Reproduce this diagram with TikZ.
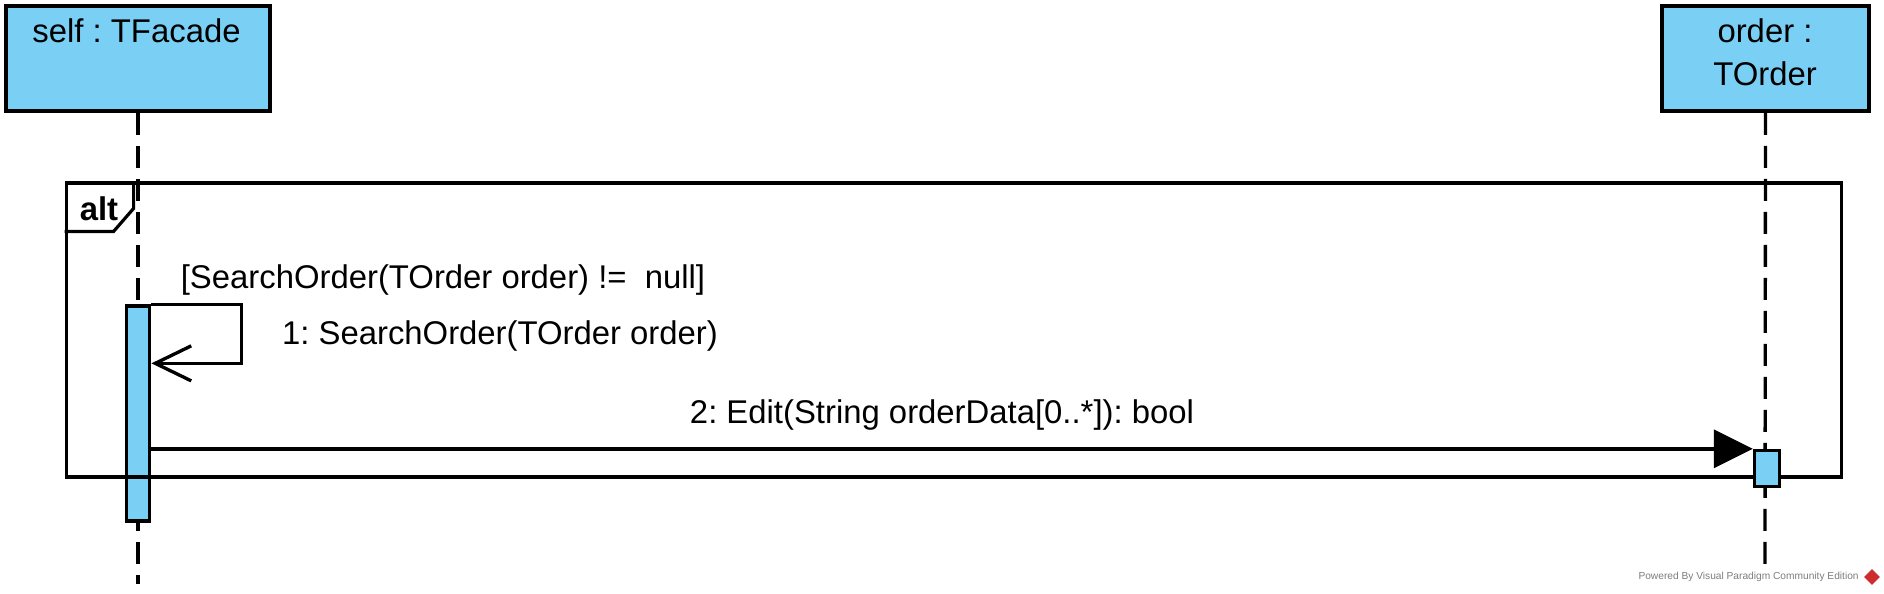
\documentclass[tikz,border=0pt]{standalone}
\usepackage{fontspec}
\setmainfont{Liberation Sans}
\usetikzlibrary{arrows.meta, shapes.geometric, positioning}
\definecolor{vpblue}{RGB}{122,207,245}
\definecolor{vpgray}{RGB}{125,125,125}
\definecolor{vpred}{RGB}{205,45,45}
\frenchspacing

\begin{document}
\begin{tikzpicture}[x=0.02cm, y=-0.02cm,
    lifebox/.style={draw, line width=2.2pt, fill=vpblue, minimum height=2.1cm, inner sep=0pt},
    actbar/.style={draw, line width=1.9pt, fill=vpblue, minimum width=0.47cm, inner sep=0pt},
    lifeline/.style={line width=1.9pt, dash pattern=on 0.44cm off 0.22cm},
    msg/.style={line width=1.9pt},
    txt/.style={font=\fontsize{18.7}{24.4}\selectfont, inner sep=0pt}]
            \useasboundingbox (0,0) rectangle (1884,594);
            % lifeline heads
            \node[lifebox, minimum width=5.28cm] (self) at (138,58.5) {};
            \node[lifebox, minimum width=4.14cm] (order) at (1765.5,58.5) {};
            \node[txt] (selfname) at (136.5,31) {self : TFacade};
            \node[txt, align=center] (ordername) at (1765,52) {order :\\TOrder};
            \coordinate (selfend) at (138,584);
            \coordinate (orderend) at (1765,565);
            \draw[lifeline] (self.south) -- (selfend);
            \draw[lifeline] (order.south) -- (orderend);
            \node[actbar, minimum height=4.3cm] (selfact) at (138,413.5) {};
            % alt fragment
            \node[draw, line width=1.8pt, minimum width=35.52cm, minimum height=5.88cm, inner sep=0pt] (altframe) at (954,330) {};
            \draw[line width=1.8pt] (altframe.north west) ++(0,50) -- ++(49,0) -- ++(20,-23) -- ++(0,-27);
            \node[txt, font=\fontsize{18.7}{22}\selectfont\bfseries] (altname) at (99,209) {alt};
            \node[actbar, minimum width=0.5cm, minimum height=0.72cm] (orderact) at (1767,468.5) {};
            % messages
            \draw[msg, -{Straight Barb[length=0.72cm, width=0.7cm]}] (selfact.north east) -- ++(90,0) -- ++(0,59) -- ++(-90,0);
            \draw[msg, -{Triangle[length=0.78cm, width=0.76cm]}] (selfact.east |- orderact.north) -- (orderact.north west);
            \node[txt] (guard) at (443,280) {[SearchOrder(TOrder order) !=\ \ null]};
            \node[txt] (msgone) at (500,336) {1: SearchOrder(TOrder order)};
            \node[txt] (msgtwo) at (942,415) {2: Edit(String orderData[0..*]): bool};
            % footer
            \node[font=\fontsize{5.8}{7}\selectfont, text=vpgray, inner sep=0pt, anchor=east] (powered) at (1859,577) {Powered By Visual Paradigm Community Edition};
            \node[diamond, fill=vpred, minimum size=0.32cm, inner sep=0pt] (vplogo) at (1872,577) {};
        \end{tikzpicture}
\end{document}
